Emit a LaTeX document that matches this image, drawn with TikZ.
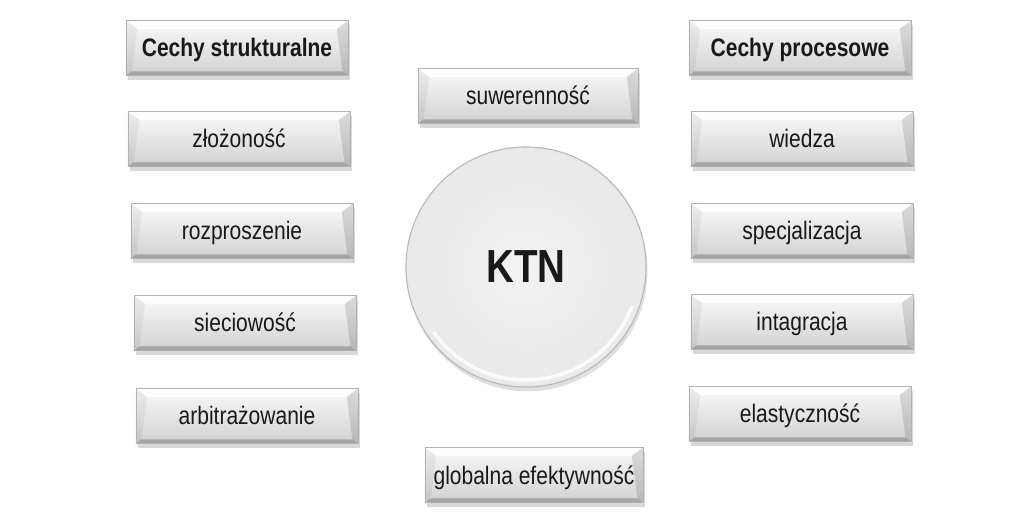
\documentclass[tikz,border=0pt]{standalone}
\usepackage{fontspec}
\setmainfont{Liberation Sans}[FakeStretch=0.83]
\usetikzlibrary{shadows}

% wygląd pól z cechami
\tikzset{
  cecha/.style={rectangle, minimum width=5.55cm, minimum height=1.375cm, inner sep=0pt,
    text height=14pt, text depth=1.2pt,
    top color=gray!4, bottom color=gray!36, draw=gray!60, line width=.5pt,
    drop shadow={opacity=.3, shadow xshift=1.5pt, shadow yshift=-3pt},
    text=black!90, font=\fontsize{18}{20}\selectfont,
    path picture={
      \fill[white,opacity=.85] (path picture bounding box.north west) -- (path picture bounding box.north east)
        -- ([xshift=-8pt,yshift=-6pt]path picture bounding box.north east) -- ([xshift=8pt,yshift=-6pt]path picture bounding box.north west) -- cycle;
      \fill[black,opacity=.05] (path picture bounding box.north west) -- ([xshift=8pt,yshift=-6pt]path picture bounding box.north west)
        -- ([xshift=4pt,yshift=3pt]path picture bounding box.south west) -- (path picture bounding box.south west) -- cycle;
      \fill[black,opacity=.12] (path picture bounding box.north east) -- ([xshift=-8pt,yshift=-6pt]path picture bounding box.north east)
        -- ([xshift=-4pt,yshift=3pt]path picture bounding box.south east) -- (path picture bounding box.south east) -- cycle;
      \fill[black,opacity=.22] (path picture bounding box.south west) -- (path picture bounding box.south east)
        -- ([xshift=-4pt,yshift=3pt]path picture bounding box.south east) -- ([xshift=4pt,yshift=3pt]path picture bounding box.south west) -- cycle;
    }},
  naglowek/.style={cecha, font=\fontsize{18}{20}\selectfont\bfseries},
  rdzen/.style={circle, minimum size=6cm, inner sep=0pt,
    inner color=gray!10, outer color=gray!17, draw=gray!55, line width=.8pt,
    drop shadow={opacity=.25, shadow xshift=1pt, shadow yshift=-3pt},
    text=black!90, font=\fontsize{33}{36}\selectfont\bfseries},
}

\begin{document}
\begin{tikzpicture}[x=0.025cm, y=-0.025cm]
    \useasboundingbox[fill=white] (0,0) rectangle (1024,523);
    %lewa kolumna: cechy strukturalne
    \node[naglowek] (strukt) at (237,48) {Cechy strukturalne};
    \node[cecha] (zlozonosc) at (239,139) {złożoność};
    \node[cecha] (rozproszenie) at (242,231) {rozproszenie};
    \node[cecha] (sieciowosc) at (245,323) {sieciowość};
    \node[cecha] (arbitraz) at (247,416) {arbitrażowanie};
    %środek
    \node[cecha, minimum width=5.5cm] (suwerennosc) at (528,96) {suwerenność};
    \node[rdzen] (ktn) at (526,267) {KTN};
    \draw[white, line width=2.5pt, opacity=.8] (ktn.center) ++(145:113) arc (145:20:113);
    \node[cecha, minimum width=5.45cm] (efektywnosc) at (534,475) {globalna efektywność};
    %prawa kolumna: cechy procesowe
    \node[naglowek] (proces) at (800,48) {Cechy procesowe};
    \node[cecha] (wiedza) at (802,139) {wiedza};
    \node[cecha] (specjalizacja) at (802,231) {specjalizacja};
    \node[cecha] (integracja) at (802,322) {intagracja};
    \node[cecha] (elastycznosc) at (800,414) {elastyczność};
\end{tikzpicture}
\end{document}
